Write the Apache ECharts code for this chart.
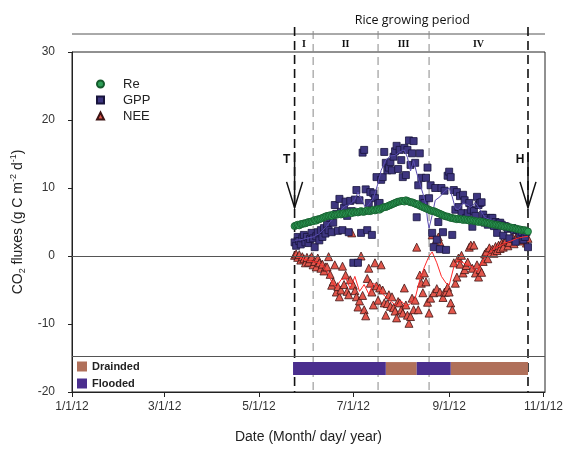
<!DOCTYPE html>
<html><head><meta charset="utf-8">
<script src="https://cdn.jsdelivr.net/npm/echarts@6/dist/echarts.min.js"></script>
<style>html,body{margin:0;padding:0;background:#fff}#c{width:574px;height:459px}</style>
</head><body><div id="c"></div>
<script>
// Day numbers are counted from 1/1/12 (day 0)
const startDay = 144; // first daily value: 5/24/12
const reVals = [
4.4,4.5,4.6,4.5,4.7,4.7,4.8,4.8,4.9,5.0,
5.0,5.1,5.1,5.3,5.2,5.4,5.4,5.5,5.6,5.7,
5.8,5.9,5.9,6.0,5.9,6.1,6.0,6.1,6.1,6.2,
6.1,6.2,6.3,6.2,6.3,6.4,6.4,6.3,6.5,6.4,
6.5,6.4,6.5,6.6,6.5,6.5,6.6,6.7,6.6,6.6,
6.7,6.8,6.7,6.8,6.9,6.8,7.0,7.1,7.2,7.2,
7.3,7.4,7.5,7.6,7.7,7.8,7.9,8.0,8.0,8.1,
8.1,8.0,8.2,8.1,8.0,7.9,7.9,7.8,7.7,7.6,
7.6,7.4,7.3,7.2,7.1,7.0,6.9,6.8,6.7,6.6,
6.6,6.5,6.4,6.3,6.2,6.1,6.0,5.9,5.8,5.8,
5.7,5.6,5.6,5.5,5.5,5.4,5.5,5.4,5.4,5.3,
5.4,5.3,5.3,5.2,5.3,5.2,5.2,5.1,5.1,5.0,
5.1,5.0,5.0,4.9,4.9,4.8,4.8,4.7,4.7,4.6,
4.6,4.6,4.5,4.5,4.4,4.4,4.3,4.3,4.3,4.2,
4.2,4.1,4.1,4.0,4.0,3.9,3.9,3.8,3.8,3.8,
3.7,3.6];
const gppVals = [
2.0,1.5,2.8,2.2,1.7,2.6,3.1,2.0,2.8,1.9,
2.5,3.4,2.6,1.3,2.9,3.5,2.3,3.8,2.8,4.1,
3.3,4.6,3.8,5.6,3.5,4.9,7.5,6.2,3.7,8.4,
6.5,3.8,7.1,8.0,5.9,3.5,8.1,6.6,-1.0,8.3,
9.7,-1.0,8.2,3.4,15.2,15.6,9.8,3.8,7.8,9.4,
3.1,9.2,8.5,11.6,7.7,7.8,11.2,11.6,15.3,13.7,
12.6,13.0,13.8,12.6,14.6,15.4,16.2,12.8,15.6,14.1,
11.6,15.9,11.9,15.6,17.0,13.4,15.1,16.9,13.7,5.7,
10.4,15.1,11.5,8.4,7.8,11.5,13.0,8.5,10.4,3.4,
1.3,10.0,2.4,5.0,1.0,10.0,3.5,9.6,0.9,11.8,
12.4,11.6,3.1,9.7,6.8,9.4,7.2,8.8,6.3,9.0,
8.2,5.6,6.3,7.8,6.8,4.3,6.6,5.9,8.7,7.5,
7.8,7.9,6.1,4.9,5.6,4.6,5.2,5.6,5.6,4.4,
5.0,3.4,4.8,4.9,4.6,3.0,4.4,4.3,4.0,2.6,
4.1,4.1,3.8,2.1,3.8,3.8,3.2,3.5,2.4,2.8,
3.5,1.3];
const neeVals = [
0.1,0.3,-0.2,0.2,-0.6,-0.1,-0.4,-1.0,-0.2,-0.9,
-0.4,-0.1,-1.3,-0.8,-1.6,-0.3,-1.0,-1.8,-1.2,-2.2,
-1.6,-1.6,-0.1,-2.7,-4.3,-3.8,-1.3,-5.3,-4.5,-6.0,
-5.0,-1.5,-4.2,-2.8,-5.2,-5.7,-3.5,3.4,-4.3,-5.1,
-6.0,-7.5,-6.6,0.0,-5.8,-7.9,-8.8,-3.3,-1.8,-4.0,
-5.3,-7.2,-1.0,-4.4,-6.5,-4.7,-1.3,-5.0,-6.9,-8.7,
-7.0,-5.7,-7.4,-6.0,-7.6,-8.1,-9.1,-6.7,-6.9,-7.9,
-8.4,-4.7,-7.2,-8.7,-9.9,-8.9,-6.2,-7.9,-6.5,1.3,
-7.9,-2.8,-4.0,-5.4,-2.5,-3.8,-6.8,-8.4,-6.2,3.1,
-5.4,2.1,-4.8,2.8,-5.3,1.6,-6.1,-5.3,-5.3,-4.6,
-5.3,-6.9,-7.9,-1.0,-4.0,-3.1,-0.3,-1.2,0.1,-2.5,
-2.0,-1.4,-0.9,1.3,1.6,-1.8,1.6,-2.5,-1.3,-3.1,
-2.0,-2.4,-0.8,0.3,0.6,-0.4,1.2,0.5,1.0,0.4,
1.4,0.8,1.6,1.1,1.9,1.3,2.2,2.4,1.5,2.0,
2.6,2.8,1.8,2.4,3.0,3.4,2.2,2.7,2.4,3.1,
1.9,2.6];
// smoothed curves (read at sparse days)
const gppLineDays = [144,148,152,156,160,164,168,171,174,177,180,183,185,188,190,192,195,198,200,203,206,209,212,215,217,219,221,223,225,227,229,230,231,233,235,238,241,244,246,248,250,253,256,258,261,264,267,270,274,278,282,286,290,295];
const gppLineVals = [2.3,2.4,2.6,2.8,3.3,4.2,5.3,6.0,6.8,7.4,7.6,8.3,9.4,8.0,7.0,7.6,8.5,10.7,12.6,14.1,14.7,14.8,15.3,15.6,14.5,12.5,14.0,12.2,10.7,9.2,7.5,5.3,4.1,6.0,8.2,8.7,9.5,10.0,8.7,7.0,6.8,7.8,7.5,7.2,7.8,6.8,5.7,5.4,5.0,4.8,4.4,4.1,3.8,3.5];
const neeLineDays = [144,147,150,153,156,159,162,165,168,171,174,177,180,183,186,189,192,195,198,201,204,207,210,213,216,219,222,225,228,231,233,236,239,242,244,247,250,253,256,259,262,265,268,271,274,277,280,284,288,292,295];
const neeLineVals = [0.0,-0.2,-0.5,-0.6,-0.8,-1.0,-1.4,-2.2,-3.8,-4.6,-3.5,-3.2,-4.8,-3.0,-5.2,-4.2,-5.6,-4.0,-4.5,-5.6,-6.2,-6.8,-7.3,-6.6,-7.4,-7.0,-6.2,-3.5,-1.6,0.0,0.6,-1.0,-3.0,-4.0,-4.3,-1.6,-0.6,-1.0,-1.3,-1.6,-2.3,-1.0,0.1,0.7,1.2,1.5,1.9,2.2,2.6,2.8,2.9];
// water management
const waterStart = [143,203,223,245];
const waterEnd   = [203,223,245,295];
const waterState = ['Flooded','Drainded','Flooded','Drainded'];
// rice growing period boundaries: T (transplanting), I|II, II|III, III|IV, H (harvest)
const periodBounds = [144,156,198,231,295];
const periodNames = ['I','II','III','IV'];
const xTickDays = [0,60,121,182,244,305];
const xTickLabels = ['1/1/12','3/1/12','5/1/12','7/1/12','9/1/12','11/1/12'];

const FONT = 'Liberation Sans, Arial, sans-serif';
const days = reVals.map((_, i) => startDay + i);
const pair = (xs, ys) => xs.map((x, i) => [x, ys[i]]);
const barTop = -15.6, barBot = -17.5;
const colors = {Flooded:'#4a2e8e', Drainded:'#b0705a'};

function barSeries(state) {
  const data = [];
  waterStart.forEach((s, i) => { if (waterState[i] === state) data.push([s, waterEnd[i], barTop, barBot]); });
  return {
    type:'custom', name:state, silent:true, z:4,
    itemStyle:{color:colors[state]},
    encode:{x:[0,1], y:[2,3]},
    renderItem:(params, api) => {
      const a = api.coord([api.value(0), api.value(2)]);
      const b = api.coord([api.value(1), api.value(3)]);
      return {type:'rect', shape:{x:a[0], y:a[1], width:b[0]-a[0], height:b[1]-a[1]}, style:{fill:colors[state]}};
    },
    data
  };
}

const chart = echarts.init(document.getElementById('c'), null, {renderer:'canvas', width:574, height:459});
const labelMap = {}; xTickDays.forEach((d, i) => labelMap[d] = xTickLabels[i]);

chart.setOption({
  animation:false,
  grid:{left:72, right:29, top:52, bottom:67, show:true, borderColor:'#222', borderWidth:1, backgroundColor:'transparent'},
  xAxis:{type:'value', min:0, max:306,
    name:'Date (Month/ day/ year)', nameLocation:'middle', nameGap:38,
    nameTextStyle:{fontFamily:FONT, fontSize:14, color:'#222'},
    axisLine:{show:true, onZero:false, lineStyle:{color:'#222'}},
    axisTick:{show:true, customValues:xTickDays, length:5, lineStyle:{color:'#222'}},
    axisLabel:{customValues:xTickDays, formatter:v => labelMap[v] || '', fontFamily:FONT, fontSize:12, color:'#333', margin:9},
    splitLine:{show:false}},
  yAxis:{type:'value', min:-20, max:30, interval:10,
    name:'{a|CO}{s|2}{a| fluxes (g C m}{p|-2}{a| d}{p|-1}{a|)}', nameLocation:'middle', nameGap:40,
    nameTextStyle:{fontFamily:FONT, fontSize:14, color:'#222',
      rich:{a:{fontFamily:FONT, fontSize:14, color:'#222', lineHeight:18},
            s:{fontFamily:FONT, fontSize:9, color:'#222', verticalAlign:'bottom', lineHeight:18},
            p:{fontFamily:FONT, fontSize:9, color:'#222', verticalAlign:'top', lineHeight:18}}},
    axisLine:{show:true, onZero:false, lineStyle:{color:'#222'}},
    axisTick:{show:true, length:4, lineStyle:{color:'#222'}},
    axisLabel:{fontFamily:FONT, fontSize:12, color:'#333', margin:17},
    splitLine:{show:false}},
  legend:[{
    orient:'vertical', left:91, top:72, itemWidth:7, itemHeight:7, itemGap:2,
    textStyle:{fontFamily:FONT, fontSize:13, color:'#222', lineHeight:14, padding:[0,0,0,14]},
    data:[{name:'Re', icon:'circle'}, {name:'GPP', icon:'rect'}, {name:'NEE', icon:'triangle'}],
    selectedMode:false
  },{
    orient:'vertical', left:72, top:355, itemWidth:10, itemHeight:10, itemGap:4,
    textStyle:{fontFamily:FONT, fontSize:11, fontWeight:'bold', color:'#222', lineHeight:13},
    data:[{name:'Drainded', icon:'rect'}, {name:'Flooded', icon:'rect'}],
    selectedMode:false
  }],
  series:[
    {type:'scatter', name:'NEE', symbol:'triangle', symbolSize:8, z:3,
      itemStyle:{color:'#e2574c', borderColor:'#3d1414', borderWidth:0.8, opacity:1},
      data:pair(days, neeVals),
      markLine:{silent:true, symbol:'none', label:{show:false},
        lineStyle:{color:'#555', width:1, type:'solid'},
        data:[{yAxis:0}, {yAxis:-14.8}]}},
    {type:'scatter', name:'GPP', symbol:'rect', symbolSize:7, z:3,
      itemStyle:{color:'#3e3680', borderColor:'#18143c', borderWidth:0.8, opacity:1},
      data:pair(days, gppVals)},
    {type:'line', name:'GPP trend', symbol:'none', z:4, lineStyle:{color:'#5a4db0', width:1}, data:pair(gppLineDays, gppLineVals)},
    {type:'line', name:'NEE trend', symbol:'none', z:4, lineStyle:{color:'#ff2a2a', width:1}, data:pair(neeLineDays, neeLineVals)},
    {type:'line', name:'Re', symbol:'circle', symbolSize:7, showSymbol:true, z:5,
      itemStyle:{color:'#2f9e57', borderColor:'#145a2c', borderWidth:0.8},
      lineStyle:{color:'#1c5c62', width:1.5},
      data:pair(days, reVals)},
    barSeries('Drainded'),
    barSeries('Flooded')
  ]
});

// annotations placed with the chart's own scales
const px = (d, v) => chart.convertToPixel({xAxisIndex:0, yAxisIndex:0}, [d, v]);
const g = [];
const bottomY = px(0, -20)[1];
const leftX = px(0, 0)[0], rightX = px(306, 0)[0];
const headerY = 34;
g.push({type:'line', shape:{x1:leftX, y1:headerY, x2:rightX, y2:headerY}, style:{stroke:'#555', lineWidth:1}});
periodBounds.forEach((d, i) => {
  const x = px(d, 0)[0];
  const major = (i === 0 || i === periodBounds.length - 1);
  g.push({type:'line', shape:{x1:x, y1:major ? 27 : 31, x2:x, y2:bottomY},
    style:{stroke: major ? '#111' : '#888', lineWidth: major ? 1.6 : 1, lineDash: major ? [9,5] : [8,5]}});
});
periodNames.forEach((n, i) => {
  const x = px((periodBounds[i] + periodBounds[i+1]) / 2, 0)[0];
  g.push({type:'text', x:x, y:44, style:{text:n, fill:'#111', font:'bold 10px "Liberation Serif", serif', align:'center', verticalAlign:'middle'}});
});
const midX = px((periodBounds[0] + periodBounds[periodBounds.length-1]) / 2, 0)[0];
g.push({type:'text', x:midX + 1, y:20, style:{text:'Rice growing period', fill:'#111', font:'12.5px "Open Sans", sans-serif', align:'center', verticalAlign:'middle'}});
// arrows T and H
[[periodBounds[0], 'T'], [periodBounds[periodBounds.length-1], 'H']].forEach(([d, lab]) => {
  const top = px(d, 15.3), bot = px(d, 7.1), hs = px(d, 10.9);
  g.push({type:'line', shape:{x1:top[0], y1:top[1], x2:bot[0], y2:bot[1]}, style:{stroke:'#111', lineWidth:1.5}});
  g.push({type:'polyline', shape:{points:[[bot[0]-8, hs[1]], [bot[0], bot[1]], [bot[0]+8, hs[1]]]}, style:{stroke:'#111', lineWidth:1.5, fill:null}});
  const lp = px(d, 14.1);
  g.push({type:'text', x:lp[0]-8, y:lp[1], style:{text:lab, fill:'#111', font:'bold 12px "Liberation Sans", sans-serif', align:'center', verticalAlign:'middle'}});
});
chart.setOption({graphic:g});
</script></body></html>
